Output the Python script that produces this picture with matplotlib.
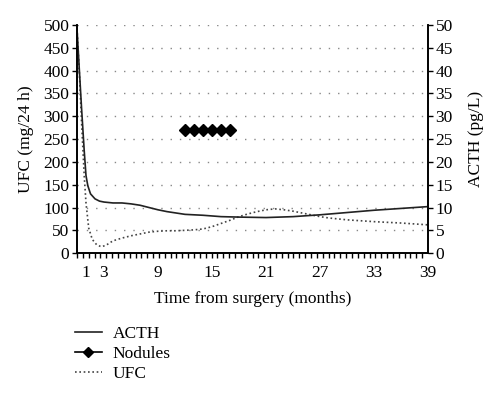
import numpy as np
import matplotlib.pyplot as plt
from matplotlib.lines import Line2D

plt.rcParams['font.family'] = ['Liberation Serif', 'DejaVu Serif']

# ACTH (pg/L), right axis
acth_month = [0, 0.25, 0.5, 0.8, 1.0, 1.2, 1.5, 2, 2.5, 3, 4, 5, 6, 7, 8, 9, 10, 11, 12,
              14, 16, 18, 21, 24, 27, 30, 33, 36, 39]
acth_val = [49.2, 40.5, 32.0, 22.5, 17.0, 14.8, 13.0, 11.9, 11.4, 11.2, 11.0, 11.0, 10.8,
            10.5, 10.0, 9.5, 9.1, 8.8, 8.5, 8.3, 8.0, 7.9, 7.8, 8.0, 8.4, 8.9, 9.4, 9.8, 10.2]

# UFC (mg/24 h), left axis
ufc_month = [0, 0.3, 0.5, 0.8, 1.0, 1.3, 1.7, 2.2, 2.7, 3.2, 4, 5, 6, 7, 8, 9, 10, 11, 12,
             13, 14, 15, 16, 17, 18, 19, 20, 21, 22, 23, 24, 25, 26, 27, 28, 30, 33, 36, 39]
ufc_val = [492, 380, 290, 170, 110, 55, 30, 18, 14, 17, 27, 33, 38, 42, 46, 48, 49, 49, 50,
           51, 53, 58, 65, 72, 80, 86, 91, 95, 97, 95, 92, 88, 84, 80, 77, 73, 69, 66, 62]

# Nodules
nod_month = [12, 13, 14, 15, 16, 17]
nod_val = [270, 270, 270, 270, 270, 270]

xticks = [1, 3, 9, 15, 21, 27, 33, 39]
fs = 12.5

fig = plt.figure(figsize=(5, 3.98), dpi=100)
ax = fig.add_axes([0.154, 0.364, 0.702, 0.573])
ax2 = ax.twinx()

for y in range(50, 501, 50):
    ax.axhline(y, color='#888888', lw=1.0, ls=(0, (1, 5.7)), zorder=0)

ax.plot(ufc_month, ufc_val, color='#444444', lw=1.2, ls=(0, (1, 1.6)))
ax.plot(nod_month, nod_val, color='black', lw=1.2, marker='D', markersize=6.5)
ax2.plot(acth_month, acth_val, color='#222222', lw=1.2)

ax.set_xlim(0, 39)
ax.set_ylim(0, 500)
ax2.set_ylim(0, 50)
ax.set_yticks(range(0, 501, 50))
ax2.set_yticks(range(0, 51, 5))
ax.set_xticks(xticks)
ax.set_xticks(np.arange(0, 39.01, 0.65), minor=True)

for a in (ax, ax2):
    a.spines['top'].set_visible(False)
    for s in ('left', 'right', 'bottom'):
        a.spines[s].set_linewidth(1.2)
    a.tick_params(which='both', direction='out', length=3.5, width=1, labelsize=fs, pad=2)
# labels only on the major x positions, marks come from the minor ticks
ax.tick_params(axis='x', which='major', length=0, pad=8.5)

ax.set_xlabel('Time from surgery (months)', fontsize=fs, labelpad=7)
ax.set_ylabel('UFC (mg/24 h)', fontsize=fs, labelpad=7)
ax2.set_ylabel('ACTH (pg/L)', fontsize=fs, labelpad=11)

handles = [Line2D([], [], color='#222222', lw=1.2),
           Line2D([], [], color='black', lw=1.2, marker='D', markersize=5),
           Line2D([], [], color='#444444', lw=1.2, ls=(0, (1, 1.6)))]
fig.legend(handles, ['ACTH', 'Nodules', 'UFC'], loc='upper left',
           bbox_to_anchor=(0.132, 0.203), frameon=False, fontsize=fs,
           handlelength=1.55, handletextpad=0.65, labelspacing=0.22, borderpad=0)

fig.savefig('out.png', dpi=100)
